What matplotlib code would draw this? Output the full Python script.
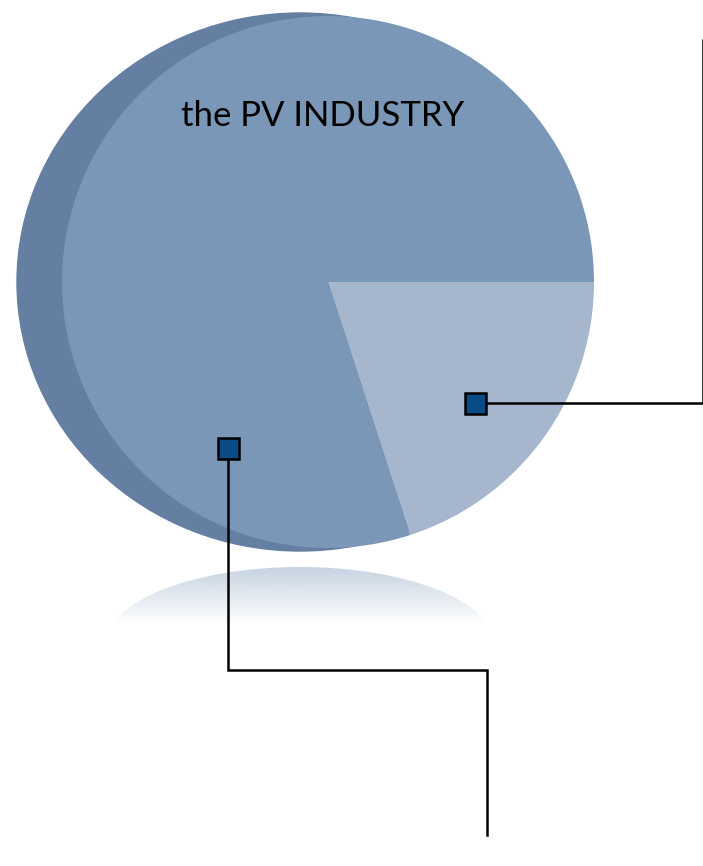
import numpy as np
import matplotlib
matplotlib.use("Agg")
import matplotlib.pyplot as plt
from matplotlib.patches import Ellipse, Rectangle

# -----------------------------
# Data
# -----------------------------
TITLE = "the PV INDUSTRY"
SHARES = [20, 80]                     # light slice, main slice (%)
SLICE_COLORS = ["#a6b7cd", "#7a97b8"]

# callout anchors (marker centre) and leader line path, in pixel coords
CALLOUTS = [
    {"anchor": (475, 403), "path": [(475, 403), (703, 403), (703, 40)]},
    {"anchor": (228, 448), "path": [(228, 448), (228, 670), (487, 670), (487, 835)]},
]

W, H = 703, 866
CENTER = (328, 282)
RADIUS = 266


def main() -> None:
    fig = plt.figure(figsize=(W / 100, H / 100), dpi=100)
    ax = fig.add_axes([0, 0, 1, 1])

    # --- side of the disk (fake 3D) ---
    ax.add_patch(Ellipse((300, 282), 566, 538, color="#647fa2", zorder=1))

    # --- pie face ---
    ax.pie(SHARES, colors=SLICE_COLORS, startangle=0, counterclock=True,
           center=CENTER, radius=RADIUS, frame=True,
           wedgeprops=dict(linewidth=0, zorder=2))

    # --- reflection below the pie ---
    grad = np.zeros((100, 2, 4))
    grad[..., 0] = 0.74
    grad[..., 1] = 0.80
    grad[..., 2] = 0.87
    grad[..., 3] = np.linspace(0.85, 0.0, 100)[:, None]
    refl = Ellipse((300, 645), 390, 156, facecolor="none", edgecolor="none")
    ax.add_patch(refl)
    im = ax.imshow(grad, extent=[100, 500, 625, 567], aspect="auto",
                   interpolation="bilinear", zorder=1)
    im.set_clip_path(refl)

    # --- title text on the pie ---
    ax.text(323, 116, TITLE, ha="center", va="center", fontsize=25,
            family="Lato", color="black", zorder=5)

    # --- callout leader lines and markers ---
    for c in CALLOUTS:
        xs, ys = zip(*c["path"])
        ax.plot(xs, ys, color="black", linewidth=1.8, zorder=4,
                solid_joinstyle="miter")
        x, y = c["anchor"]
        ax.add_patch(Rectangle((x - 10.5, y - 10.5), 21, 21,
                               facecolor="#0a4a86", edgecolor="black",
                               linewidth=1.8, zorder=6))

    ax.set_xlim(0, W)
    ax.set_ylim(H, 0)
    ax.set_aspect("equal")
    ax.axis("off")

    fig.savefig("out.png", dpi=100, facecolor="white")
    plt.close(fig)


if __name__ == "__main__":
    main()
